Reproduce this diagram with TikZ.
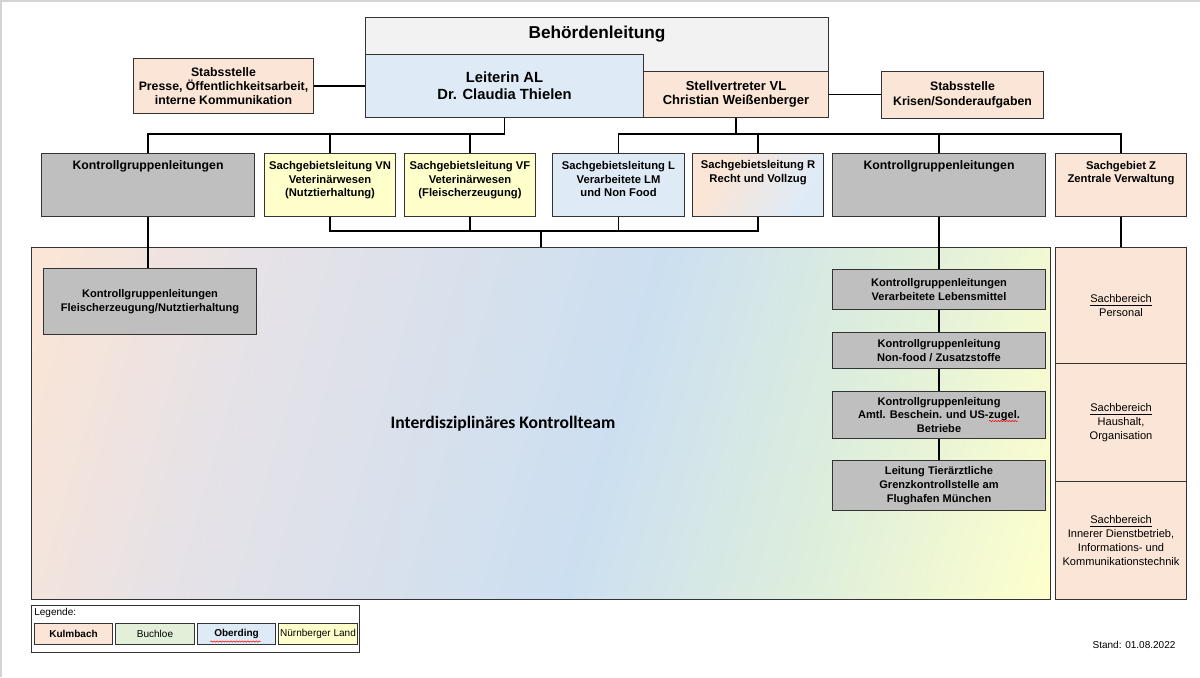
\documentclass[tikz,border=0pt]{standalone}
\usepackage{fontspec}
\setmainfont{Liberation Sans}
\newfontfamily\teamfont{Carlito}
\usepackage{tikz}
\usetikzlibrary{decorations.pathmorphing}

\definecolor{kpeach}{HTML}{FBE5D6}
\definecolor{kblue}{HTML}{DEEBF7}
\definecolor{kgreen}{HTML}{E2F0D9}
\definecolor{kyellow}{HTML}{FFFFCC}
\definecolor{kgrey}{HTML}{BFBFBF}
\definecolor{lgrey}{HTML}{F2F2F2}
\definecolor{mixlav}{HTML}{E6E2E7}
\definecolor{mixblue}{HTML}{CCDFF1}
\definecolor{mixgreen}{HTML}{DDEEDC}
\definecolor{framegrey}{HTML}{D4D4D4}

\pgfdeclarehorizontalshading{teamshade}{100bp}{color(0bp)=(kpeach); color(20bp)=(kpeach); color(32bp)=(mixlav); color(54bp)=(mixblue); color(67bp)=(mixgreen); color(81bp)=(kyellow); color(100bp)=(kyellow)}
\pgfdeclarehorizontalshading{rshade}{100bp}{color(0bp)=(kpeach); color(30bp)=(kpeach); color(72bp)=(kblue); color(100bp)=(kblue)}

\newcommand\ftbig{\bfseries\fontsize{9.8}{11}\selectfont}
\newcommand\fthead{\bfseries\fontsize{8.4}{9.7}\selectfont}
\newcommand\ftstv{\bfseries\fontsize{7.4}{8.1}\selectfont}
\newcommand\ftstab{\bfseries\fontsize{7}{8.2}\selectfont}
\newcommand\ftsg{\bfseries\fontsize{6.4}{7.5}\selectfont}
\newcommand\ftkg{\bfseries\fontsize{6.3}{7.9}\selectfont}
\newcommand\ftsb{\fontsize{6.3}{7.8}\selectfont}
\newcommand\ftleg{\fontsize{5.7}{6.5}\selectfont}

\tikzset{
  box/.style={draw=black!80, line width=0.6pt, anchor=north west, inner sep=1pt, align=center},
  toplbl/.style={anchor=north, align=center, inner sep=0pt},
  conn/.style={line width=1.1pt},
  legitem/.style={box, minimum height=0.42cm, inner sep=0pt, font=\ftleg},
  squig/.style={red, line width=0.3pt, decorate, decoration={snake, amplitude=0.35pt, segment length=1.6pt}}
}

\begin{document}
\begin{tikzpicture}[x=0.02cm, y=-0.02cm]
\useasboundingbox (0,0) rectangle (1200,677);
\draw[framegrey, line width=1pt] (1,677) -- (1,1) -- (1200,1);

% Behoerdenleitung
\node[box, fill=lgrey, minimum width=9.26cm, minimum height=2cm,
  label={[toplbl, yshift=-5.1pt, font=\ftbig]north:Behördenleitung}] (bl) at (365,17) {};
\node[box, fill=kblue, minimum width=5.56cm, minimum height=1.26cm, font=\fthead] (leiterin) at (365,54)
  {Leiterin AL\\Dr. Claudia Thielen};
\node[box, fill=kpeach, minimum width=3.7cm, minimum height=0.92cm, font=\ftstv] (stv) at (643,71)
  {Stellvertreter VL\\Christian Weißenberger};

% Stabsstellen
\node[box, fill=kpeach, minimum width=3.6cm, minimum height=1.1cm, font=\ftstab] (presse) at (133,58)
  {Stabsstelle\\Presse, Öffentlichkeitsarbeit,\\interne Kommunikation};
\node[box, fill=kpeach, minimum width=3.24cm, minimum height=0.94cm, font=\ftstab] (krisen) at (881,71)
  {Stabsstelle\\Krisen/Sonderaufgaben};

% Sachgebiete
\node[box, fill=kgrey, minimum width=4.26cm, minimum height=1.26cm,
  label={[toplbl, yshift=-4pt, font=\bfseries\fontsize{7}{8.2}\selectfont]north:Kontrollgruppenleitungen}] (kgl) at (41,153) {};
\node[box, fill=kyellow, minimum width=2.62cm, minimum height=1.26cm,
  label={[toplbl, yshift=-4.8pt, font=\ftsg]north:{Sachgebietsleitung VN\\Veterinärwesen\\(Nutztierhaltung)}}] (vn) at (264,153) {};
\node[box, fill=kyellow, minimum width=2.62cm, minimum height=1.26cm,
  label={[toplbl, yshift=-4.8pt, font=\ftsg]north:{Sachgebietsleitung VF\\Veterinärwesen\\(Fleischerzeugung)}}] (vf) at (404,153) {};
\node[box, fill=kblue, minimum width=2.64cm, minimum height=1.26cm,
  label={[toplbl, yshift=-4.8pt, font=\ftsg]north:{Sachgebietsleitung L\\Verarbeitete LM\\und Non Food}}] (l) at (552,153) {};
\node[box, shading=rshade, shading angle=-30, shade, minimum width=2.62cm, minimum height=1.26cm,
  label={[toplbl, yshift=-4.2pt, font=\ftsg]north:{Sachgebietsleitung R\\Recht und Vollzug}}] (r) at (692,153) {};
\node[box, fill=kgrey, minimum width=4.26cm, minimum height=1.26cm,
  label={[toplbl, yshift=-4pt, font=\bfseries\fontsize{7}{8.2}\selectfont]north:Kontrollgruppenleitungen}] (kgr) at (832,153) {};
\node[box, fill=kpeach, minimum width=2.62cm, minimum height=1.26cm,
  label={[toplbl, yshift=-4.6pt, font=\ftsg]north:{Sachgebiet Z\\Zentrale Verwaltung}}] (z) at (1055,153) {};

% Kontrollteam
\node[box, shading=teamshade, shading angle=-16, shade, minimum width=20.38cm, minimum height=7.04cm] (team) at (31,247) {};
\node[font=\teamfont\bfseries\fontsize{10}{12}\selectfont] (teamtxt) at (503,424) {Interdisziplinäres Kontrollteam};
\node[box, fill=kgrey, minimum width=4.26cm, minimum height=1.32cm, font=\ftkg] (fn) at (43,268)
  {Kontrollgruppenleitungen\\Fleischerzeugung/Nutztierhaltung};
\node[box, fill=kgrey, minimum width=4.26cm, minimum height=0.8cm, font=\ftkg] (vl) at (832,269)
  {Kontrollgruppenleitungen\\Verarbeitete Lebensmittel};
\node[box, fill=kgrey, minimum width=4.26cm, minimum height=0.72cm, font=\ftkg] (nf) at (832,332)
  {Kontrollgruppenleitung\\Non-food / Zusatzstoffe};
\node[box, fill=kgrey, minimum width=4.26cm, minimum height=0.94cm, font=\ftkg] (amtl) at (832,391)
  {Kontrollgruppenleitung\\Amtl. Beschein. und US-zugel.\\Betriebe};
\node[box, fill=kgrey, minimum width=4.26cm, minimum height=1cm, font=\ftkg] (tgk) at (832,460)
  {Leitung Tierärztliche\\Grenzkontrollstelle am\\Flughafen München};

% Sachbereiche
\node[box, fill=kpeach, minimum width=2.62cm, minimum height=2.32cm, font=\ftsb] (sp) at (1055,247)
  {\underline{Sachbereich}\\Personal};
\node[box, fill=kpeach, minimum width=2.62cm, minimum height=2.36cm, font=\ftsb] (sh) at (1055,363)
  {\underline{Sachbereich}\\Haushalt,\\Organisation};
\node[box, fill=kpeach, minimum width=2.62cm, minimum height=2.36cm, font=\ftsb] (si) at (1055,481)
  {\underline{Sachbereich}\\Innerer Dienstbetrieb,\\Informations- und\\Kommunikationstechnik};

% Verbindungen
\coordinate (lbus) at (leiterin.south |- 0,134);
\coordinate (sbus) at (stv.south |- 0,134);
\coordinate (tbus) at (team.north |- 0,231);
\draw[conn] (presse.east) -- (presse.east -| leiterin.west);
\draw[conn] (stv.east) -- (stv.east -| krisen.west);
\draw[conn] (leiterin.south) -- (lbus) -| (kgl.north);
\draw[conn] (lbus) -| (vn.north);
\draw[conn] (lbus) -| (vf.north);
\draw[conn] (stv.south) -- (sbus) -| (l.north);
\draw[conn] (sbus) -| (r.north);
\draw[conn] (sbus) -| (kgr.north);
\draw[conn] (sbus) -| (z.north);
\draw[conn] (vn.south) |- (tbus) -| (r.south);
\draw[conn] (vf.south) -- (vf.south |- tbus);
\draw[conn] (l.south) -- (l.south |- tbus);
\draw[conn] (tbus) -- (team.north);
\draw[conn] (kgl.south) -- (kgl.south |- fn.north);
\draw[conn] (kgr.south) -- (vl.north);
\draw[conn] (vl) -- (nf);
\draw[conn] (nf) -- (amtl);
\draw[conn] (amtl) -- (tgk);
\draw[conn] (z.south) -- (sp.north);

% Legende
\node[box, minimum width=6.56cm, minimum height=0.94cm] (legend) at (31,605) {};
\node[anchor=west, inner sep=0pt, font=\ftleg] (legtxt) at (34,613) {Legende:};
\node[legitem, fill=kpeach, minimum width=1.56cm] (kul) at (34,623) {\bfseries Kulmbach};
\node[legitem, fill=kgreen, minimum width=1.58cm] (buc) at (115,623) {Buchloe};
\node[legitem, fill=kblue, minimum width=1.56cm] (obe) at (197,623) {\bfseries Oberding};
\node[legitem, fill=kyellow, minimum width=1.58cm] (nue) at (278,623) {Nürnberger Land};
\draw[squig] ([shift={(-26,7.5)}]obe.center) -- ([shift={(24,7.5)}]obe.center);
\draw[squig] ([shift={(50,6)}]amtl.center) -- ([shift={(79,6)}]amtl.center);

\node[font=\ftleg] (stand) at (1134,645) {Stand: 01.08.2022};
\end{tikzpicture}
\end{document}
